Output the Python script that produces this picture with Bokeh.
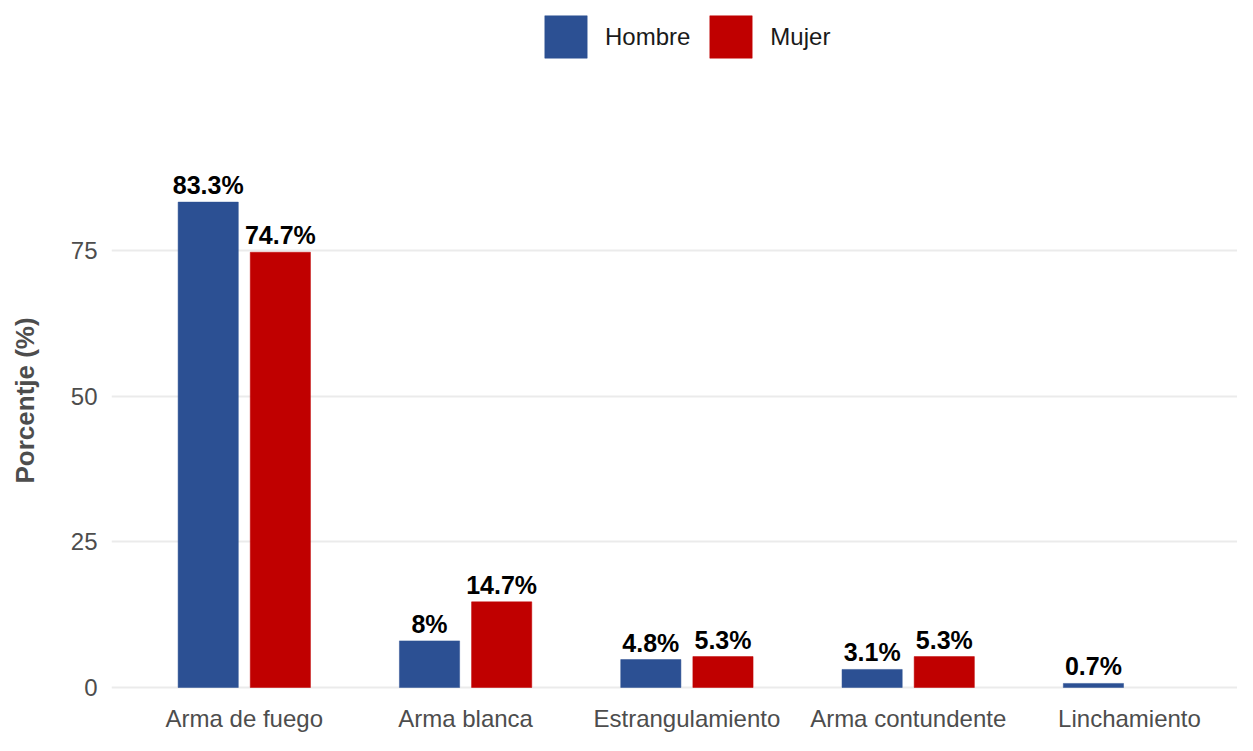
import math
from bokeh.plotting import figure
from bokeh.models import (ColumnDataSource, Range1d, FixedTicker, Legend, LegendItem, Title)
from bokeh.embed import file_html
from bokeh.resources import INLINE

categories = ["Arma de fuego", "Arma blanca", "Estrangulamiento", "Arma contundente", "Linchamiento"]
series_names = ["Hombre", "Mujer"]
hombre = [83.3, 8.0, 4.8, 3.1, 0.7]
mujer = [74.7, 14.7, 5.3, 5.3, None]
y_ticks = [0, 25, 50, 75]

colors = {"Hombre": "#2C5093", "Mujer": "#C00000"}
offsets = {"Hombre": -0.163, "Mujer": 0.163}
FONT = "Liberation Sans"

p = figure(width=1237, height=735, output_backend="svg", toolbar_location=None,
           x_range=Range1d(0.4, 5.488), y_range=Range1d(-2.23, 117.9),
           min_border_left=0, min_border_right=0, min_border_top=0, min_border_bottom=35)
p.outline_line_color = None
p.background_fill_color = "white"
p.border_fill_color = "white"

renderers = {}
for name, vals in (("Hombre", hombre), ("Mujer", mujer)):
    xs, ys, labels = [], [], []
    for i, v in enumerate(vals):
        if v is None:
            continue
        xs.append(i + 1 + offsets[name])
        ys.append(v)
        labels.append(f"{v:g}%")
    src = ColumnDataSource(dict(x=xs, top=ys, label=labels))
    r = p.vbar(x="x", top="top", bottom=0, width=0.272, source=src,
               fill_color=colors[name], line_color=colors[name], line_width=0.5)
    renderers[name] = r
    p.text(x="x", y="top", text="label", source=src, text_align="center",
           text_baseline="bottom", y_offset=-3, text_font_size="25px",
           text_font_style="bold", text_color="black", text_font={"value": FONT})

# axes
p.xaxis.ticker = FixedTicker(ticks=list(range(1, len(categories) + 1)))
p.xaxis.major_label_overrides = {i + 1: c for i, c in enumerate(categories)}
p.yaxis.ticker = FixedTicker(ticks=y_ticks)
for ax in (p.xaxis[0], p.yaxis[0]):
    ax.axis_line_color = None
    ax.major_tick_line_color = None
    ax.minor_tick_line_color = None
    ax.major_tick_out = 0
    ax.major_tick_in = 0
    ax.minor_tick_out = 0
    ax.minor_tick_in = 0
    ax.major_label_text_font = FONT
    ax.major_label_text_font_size = "24px"
    ax.major_label_text_color = "#4D4D4D"
p.xaxis.major_label_standoff = 4
p.yaxis.major_label_standoff = 14
# tiny blank axis label used only as spacing between tick labels and the y title
p.yaxis.axis_label = " "
p.yaxis.axis_label_text_font_size = "1px"
p.yaxis.axis_label_standoff = 13

# y-axis title placed in the left panel so it can be centred like the reference
ytitle = Title(text="Porcentje (%)", align="left", vertical_align="top", offset=217,
               standoff=18, text_font=FONT, text_font_size="26px", text_font_style="bold",
               text_color="#4D4D4D")
p.add_layout(ytitle, "left")

p.xgrid.grid_line_color = None
p.ygrid.ticker = FixedTicker(ticks=y_ticks)
p.ygrid.grid_line_color = "#EBEBEB"
p.ygrid.grid_line_width = 2

legend = Legend(items=[LegendItem(label=n, renderers=[renderers[n]]) for n in series_names],
                orientation="horizontal", location=(428, 637),
                glyph_width=53, glyph_height=53, label_standoff=13, spacing=14,
                label_text_font=FONT, label_text_font_size="24px", label_text_color="#1A1A1A",
                border_line_color=None, background_fill_alpha=0, padding=0, margin=0)
p.add_layout(legend, "center")

open("out.html", "w").write(file_html(p, INLINE))
